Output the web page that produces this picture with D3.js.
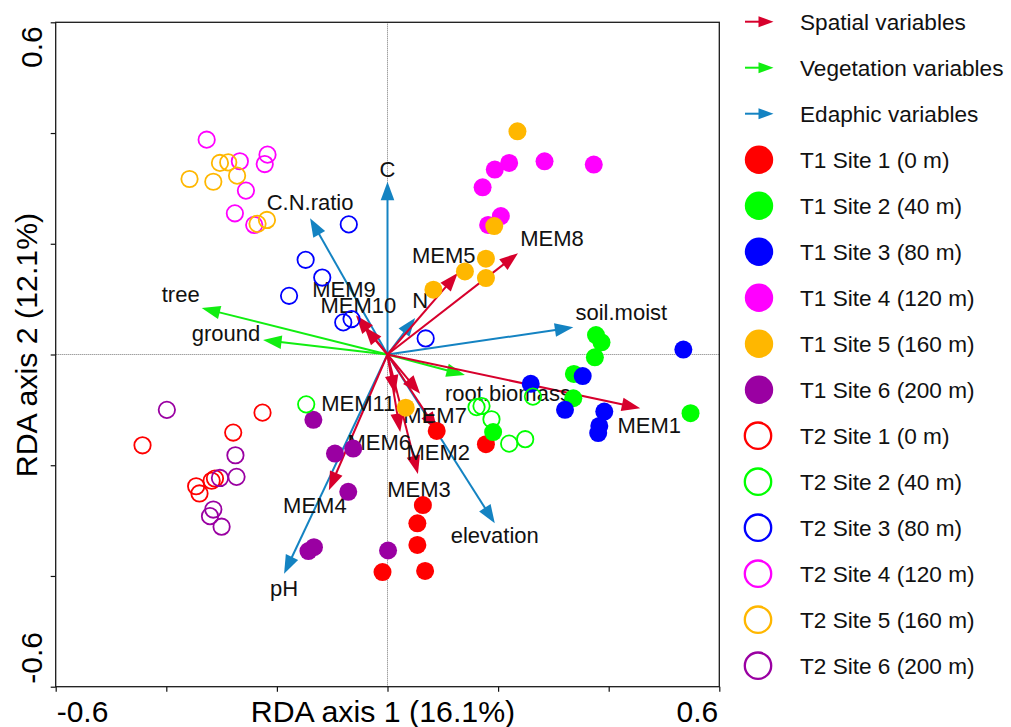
<!DOCTYPE html>
<html>
<head>
<meta charset="utf-8">
<script src="https://cdn.jsdelivr.net/npm/d3@7"></script>
<style>
  body { margin: 0; background: #fff; }
  svg { display: block; font-family: "Liberation Sans", Arial, sans-serif; }
</style>
</head>
<body>
<svg id="chart" width="1011" height="727"></svg>
<script>
// ---- Site scores on RDA axes 1 and 2 (seven plots per site) ----
const t1Site1 = [[0.089,-0.138],[0.064,-0.272],[0.054,-0.305],[0.054,-0.344],[-0.009,-0.393],[0.068,-0.391],[0.178,-0.162]];
const t1Site2 = [[0.377,0.035],[0.387,0.022],[0.375,-0.005],[0.337,-0.035],[0.336,-0.079],[0.191,-0.140],[0.548,-0.106]];
const t1Site3 = [[0.535,0.009],[0.353,-0.039],[0.259,-0.053],[0.321,-0.100],[0.392,-0.103],[0.383,-0.129],[0.381,-0.142]];
const t1Site4 = [[0.220,0.346],[0.194,0.334],[0.172,0.302],[0.284,0.349],[0.373,0.343],[0.205,0.250],[0.182,0.234]];
const t1Site5 = [[0.235,0.403],[0.193,0.232],[0.178,0.173],[0.140,0.150],[0.178,0.138],[0.083,0.117],[0.033,-0.096]];
const t1Site6 = [[-0.134,-0.118],[-0.095,-0.179],[-0.062,-0.170],[-0.071,-0.248],[-0.143,-0.355],[-0.133,-0.348],[0.001,-0.354]];
const t2Site1 = [[-0.443,-0.164],[-0.226,-0.105],[-0.279,-0.141],[-0.346,-0.238],[-0.340,-0.251],[-0.318,-0.228],[-0.312,-0.224]];
const t2Site2 = [[-0.147,-0.090],[0.161,-0.095],[0.170,-0.093],[0.188,-0.117],[0.220,-0.161],[0.249,-0.153],[0.263,-0.076]];
const t2Site3 = [[-0.070,0.235],[-0.148,0.171],[-0.118,0.139],[-0.178,0.106],[-0.080,0.058],[-0.065,0.064],[0.069,0.029]];
const t2Site4 = [[-0.327,0.388],[-0.267,0.349],[-0.217,0.361],[-0.222,0.344],[-0.256,0.296],[-0.276,0.255],[-0.241,0.234]];
const t2Site5 = [[-0.358,0.317],[-0.315,0.312],[-0.303,0.346],[-0.288,0.347],[-0.272,0.323],[-0.218,0.243],[-0.235,0.236]];
const t2Site6 = [[-0.399,-0.100],[-0.275,-0.182],[-0.273,-0.221],[-0.303,-0.223],[-0.315,-0.280],[-0.321,-0.292],[-0.300,-0.311]];

const siteLabels = ["T1 Site 1 (0 m)","T1 Site 2 (40 m)","T1 Site 3 (80 m)","T1 Site 4 (120 m)","T1 Site 5 (160 m)","T1 Site 6 (200 m)",
                    "T2 Site 1 (0 m)","T2 Site 2 (40 m)","T2 Site 3 (80 m)","T2 Site 4 (120 m)","T2 Site 5 (160 m)","T2 Site 6 (200 m)"];

// ---- Explanatory variable biplot scores ----
const spatialNames  = ["MEM1","MEM2","MEM3","MEM4","MEM5","MEM6","MEM7","MEM8","MEM9","MEM10","MEM11"];
const spatialScores = [[0.457,-0.097],[0.090,-0.137],[0.055,-0.216],[-0.106,-0.245],[0.127,0.147],[0.023,-0.140],
                       [0.059,-0.071],[0.236,0.183],[-0.057,0.071],[-0.042,0.050],[0.014,-0.071]];
const vegetationNames  = ["tree","ground","root.biomass"];
const vegetationScores = [[-0.336,0.084],[-0.225,0.026],[0.140,-0.037]];
const edaphicNames  = ["C","C.N.ratio","N","soil.moist","elevation","pH"];
const edaphicScores = [[0.000,0.312],[-0.140,0.246],[0.050,0.066],[0.336,0.049],[0.194,-0.305],[-0.187,-0.396]];
const groupLabels = ["Spatial variables","Vegetation variables","Edaphic variables"];

// ---- Axes ----
const axisTicks = [-0.6,-0.4,-0.2,0,0.2,0.4,0.6];
const axisEndLabels = ["-0.6","0.6"];
const xTitle = "RDA axis 1 (16.1%)";
const yTitle = "RDA axis 2 (12.1%)";

// ---- Styling ----
const siteColors = ["#ff0000","#00ff00","#0000ff","#ff00ff","#ffb700","#9a00a2"];
const groupColors = ["#d7002c","#11ee11","#1483c2"];
const labelFont = 22;
const legendFont = 22.6;

// label placement relative to the arrow tip (pixels)
const labelShift = {
  MEM1:[9,25], MEM2:[1,30], MEM3:[1,23], MEM4:[-14,23], MEM5:[-14,-10], MEM6:[-21,18],
  MEM7:[15,29], MEM8:[34,-7], MEM9:[-12,-18], MEM10:[-6,-14], MEM11:[-37,17],
  tree:[-21,-6], ground:[-37,1], "root.biomass":[43,26],
  C:[0,-5], "C.N.ratio":[0,-8], N:[5,-10], "soil.moist":[48,-7], elevation:[0,20], pH:[0,22]
};

const svg = d3.select("#chart");
const x = d3.scaleLinear().domain([-0.6, 0.6]).range([55.7, 719.3]);
const y = d3.scaleLinear().domain([-0.6, 0.6]).range([686.7, 22.3]);

// zero reference lines
svg.append("line").attr("x1", x(-0.6)).attr("x2", x(0.6)).attr("y1", y(0)).attr("y2", y(0))
  .attr("stroke", "#777").attr("stroke-width", 1).attr("stroke-dasharray", "1,1");
svg.append("line").attr("x1", x(0)).attr("x2", x(0)).attr("y1", y(-0.6)).attr("y2", y(0.6))
  .attr("stroke", "#777").attr("stroke-width", 1).attr("stroke-dasharray", "1,1");

// tick marks
const gx = svg.append("g").attr("transform", `translate(0,${y(-0.6)})`)
  .call(d3.axisBottom(x).tickValues(axisTicks).tickSize(5).tickFormat(""));
const gy = svg.append("g").attr("transform", `translate(${x(-0.6)},0)`)
  .call(d3.axisLeft(y).tickValues(axisTicks).tickSize(5).tickFormat(""));
[gx, gy].forEach(g => {
  g.select(".domain").remove();
  g.selectAll("line").attr("stroke", "#111").attr("stroke-width", 1.2);
});

// frame
svg.append("rect").attr("x", x(-0.6)).attr("y", y(0.6))
  .attr("width", x(0.6) - x(-0.6)).attr("height", y(-0.6) - y(0.6))
  .attr("fill", "none").attr("stroke", "#1a1a1a").attr("stroke-width", 1.3);

// end labels on axes
svg.append("text").attr("x", x(-0.6) + 1).attr("y", 721.5).attr("font-size", 30)
  .attr("text-anchor", "start").text(axisEndLabels[0]);
svg.append("text").attr("x", x(0.6) - 1).attr("y", 721.5).attr("font-size", 30)
  .attr("text-anchor", "end").text(axisEndLabels[1]);
svg.append("text").attr("transform", `translate(42,${y(0.6) + 4}) rotate(-90)`).attr("font-size", 30)
  .attr("text-anchor", "end").text(axisEndLabels[1]);
svg.append("text").attr("transform", `translate(42,${y(-0.6) - 3}) rotate(-90)`).attr("font-size", 30)
  .attr("text-anchor", "start").text(axisEndLabels[0]);

// axis titles
svg.append("text").attr("x", 383).attr("y", 721.5).attr("font-size", 30.3)
  .attr("text-anchor", "middle").text(xTitle);
svg.append("text").attr("transform", `translate(37,345) rotate(-90)`).attr("font-size", 30.3)
  .attr("text-anchor", "middle").text(yTitle);

// arrow helper: shaft from (x0,y0) to tip plus a filled triangular head
function arrowHead(x0, y0, x1, y1, len, half) {
  const dx = x1 - x0, dy = y1 - y0, d = Math.hypot(dx, dy);
  const ux = dx / d, uy = dy / d, nx = -uy, ny = ux;
  const bx = x1 - len * ux, by = y1 - len * uy;
  return {
    shaftEnd: [x1 - len * 0.7 * ux, y1 - len * 0.7 * uy],
    head: [[x1, y1], [bx + half * nx, by + half * ny], [bx - half * nx, by - half * ny]]
  };
}

const groups = [
  { names: spatialNames, scores: spatialScores, color: groupColors[0] },
  { names: vegetationNames, scores: vegetationScores, color: groupColors[1] },
  { names: edaphicNames, scores: edaphicScores, color: groupColors[2] }
];

const arrowLayer = svg.append("g");
const labelLayer = svg.append("g");
// draw edaphic and vegetation first, spatial on top
[groups[2], groups[1], groups[0]].forEach(gr => {
  gr.scores.forEach((s, i) => {
    const a = arrowHead(x(0), y(0), x(s[0]), y(s[1]), 18.5, 6.8);
    arrowLayer.append("line").attr("x1", x(0)).attr("y1", y(0))
      .attr("x2", a.shaftEnd[0]).attr("y2", a.shaftEnd[1])
      .attr("stroke", gr.color).attr("stroke-width", 2);
    arrowLayer.append("polygon").attr("points", a.head.map(p => p.join(",")).join(" "))
      .attr("fill", gr.color);
    const sh = labelShift[gr.names[i]] || [0, 0];
    labelLayer.append("text").attr("x", x(s[0]) + sh[0]).attr("y", y(s[1]) + sh[1])
      .attr("font-size", labelFont).attr("text-anchor", "middle").attr("fill", "#111")
      .text(gr.names[i]);
  });
});

// sample points
const siteData = [t1Site1, t1Site2, t1Site3, t1Site4, t1Site5, t1Site6,
                  t2Site1, t2Site2, t2Site3, t2Site4, t2Site5, t2Site6];
const pointLayer = svg.append("g");
siteData.forEach((pts, k) => {
  const col = siteColors[k % 6];
  const filled = k < 6;
  pointLayer.selectAll(null).data(pts).join("circle")
    .attr("cx", d => x(d[0])).attr("cy", d => y(d[1]))
    .attr("r", filled ? 9 : 8.2)
    .attr("fill", filled ? col : "none")
    .attr("stroke", filled ? "none" : col)
    .attr("stroke-width", filled ? 0 : 1.8);
});
labelLayer.raise();
pointLayer.raise();

// legend
const legend = svg.append("g");
const rowY = i => 21.7 + i * 46;
const markX = 759, textX = 800;
groupLabels.forEach((lab, i) => {
  const cy = rowY(i);
  const a = arrowHead(745, cy, 773.5, cy, 15, 5.5);
  legend.append("line").attr("x1", 745).attr("y1", cy).attr("x2", a.shaftEnd[0]).attr("y2", cy)
    .attr("stroke", groupColors[i]).attr("stroke-width", 2);
  legend.append("polygon").attr("points", a.head.map(p => p.join(",")).join(" "))
    .attr("fill", groupColors[i]);
  legend.append("text").attr("x", textX).attr("y", cy + 8.3).attr("font-size", legendFont)
    .attr("fill", "#111").text(lab);
});
siteLabels.forEach((lab, k) => {
  const cy = rowY(k + 3);
  const col = siteColors[k % 6];
  const filled = k < 6;
  legend.append("circle").attr("cx", filled ? markX : 758).attr("cy", cy)
    .attr("r", filled ? 14.2 : 13.2)
    .attr("fill", filled ? col : "none")
    .attr("stroke", filled ? "none" : col).attr("stroke-width", filled ? 0 : 2.3);
  legend.append("text").attr("x", textX).attr("y", cy + 8.3).attr("font-size", legendFont)
    .attr("fill", "#111").text(lab);
});
</script>
</body>
</html>
